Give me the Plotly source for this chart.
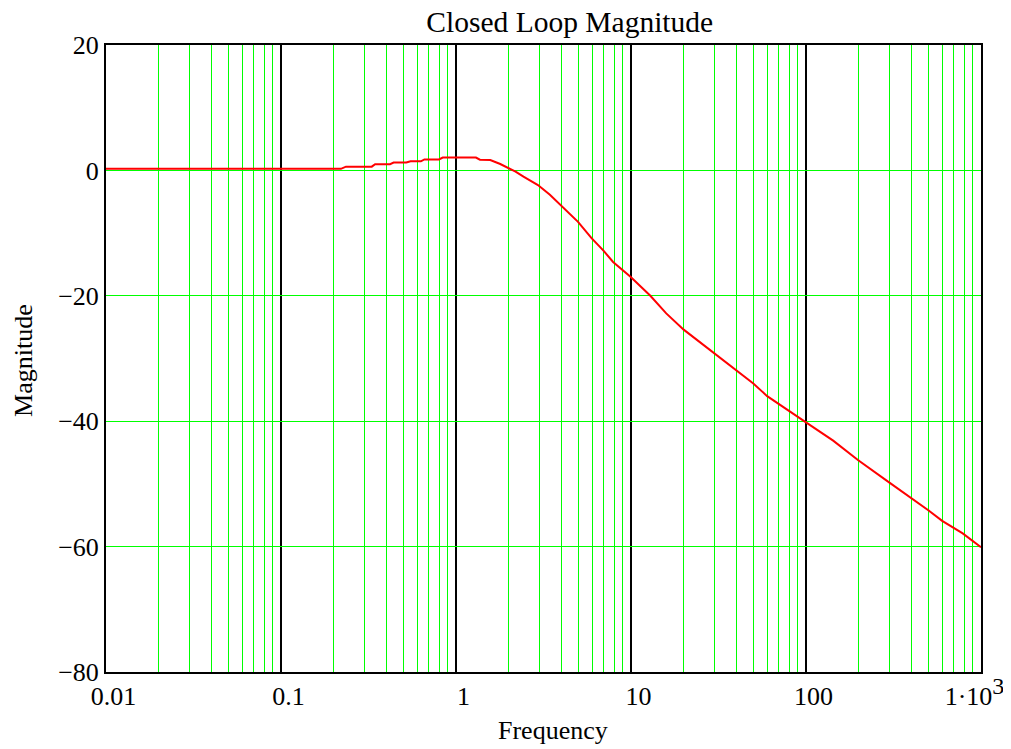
import plotly.graph_objects as go

# Data
freq = [0.01, 0.22, 0.235, 0.33, 0.345, 0.42, 0.44, 0.52, 0.55, 0.63, 0.66, 0.80, 0.84,
        1.30, 1.37, 1.57, 1.79, 2.0, 2.19, 2.43, 2.94, 3.44, 3.95, 4.47, 4.98, 5.95, 6.96,
        7.9, 9.93, 12.9, 15.9, 20, 27.5, 39.5, 50, 60, 79, 100, 143, 198, 293, 397, 500,
        600, 786, 1000]
mag_db = [0.25, 0.25, 0.6, 0.6, 1.0, 1.0, 1.25, 1.25, 1.45, 1.45, 1.75, 1.75, 2.05,
          2.05, 1.7, 1.66, 1.02, 0.33, -0.2, -1.0, -2.33, -3.9, -5.5, -6.85, -8.2, -10.8,
          -12.8, -14.6, -16.95, -20.0, -22.8, -25.4, -28.4, -31.8, -34.0, -36.0, -38.3,
          -40.2, -43.1, -46.2, -49.6, -52.2, -54.2, -55.9, -57.9, -60.1]

x_tickvals = [0.01, 0.1, 1, 10, 100, 1000]
pad = "\u2002\u200a"
x_ticktext = [pad + "0.01", pad + "0.1", pad + "1", pad + "10", pad + "100",
              "1\u00b710<sup><span style='font-size:24px'>3</span></sup>\u2002"]
y_tickvals = [20, 0, -20, -40, -60, -80]
minor_vals = [m * 10 ** e for e in range(-2, 3) for m in range(2, 10)]

FONT = "Liberation Serif, Times New Roman, serif"

fig = go.Figure()
fig.add_trace(go.Scatter(x=freq, y=mag_db, mode="lines",
                         line=dict(color="#ff0000", width=2), showlegend=False))

# page body has an 8px margin, so the figure is 8px smaller and shifted
fig.update_layout(
    width=1003, height=741,
    margin=dict(l=98, r=30, t=37, b=77),
    paper_bgcolor="white", plot_bgcolor="white",
    font=dict(family=FONT, size=26, color="black"),
    title=dict(text="Closed Loop Magnitude", x=0.530, xref="paper", xanchor="center",
               y=0.981, yanchor="middle", yref="container",
               font=dict(family=FONT, size=29.5, color="black")),
    annotations=[
        dict(text="Frequency", xref="paper", yref="paper", x=0.511, y=-0.094,
             xanchor="center", yanchor="middle", showarrow=False,
             font=dict(family=FONT, size=26, color="black")),
        dict(text="Magnitude", xref="paper", yref="paper", x=-0.095, y=0.4976,
             xanchor="center", yanchor="middle", textangle=-90, showarrow=False,
             font=dict(family=FONT, size=26, color="black")),
    ],
)

fig.update_xaxes(
    type="log", range=[-2, 3], automargin=False, ticklabeloverflow="allow",
    tickvals=x_tickvals, ticktext=x_ticktext,
    showgrid=True, gridcolor="#000000", gridwidth=1.5,
    minor=dict(tickvals=minor_vals, showgrid=True, gridcolor="#00ff00", gridwidth=1, ticks=""),
    showline=True, linecolor="black", linewidth=2, mirror=True,
    ticks="", zeroline=False,
    tickfont=dict(family=FONT, size=26),
)
fig.update_yaxes(
    range=[-80, 20], tickvals=y_tickvals, automargin=False, ticklabeloverflow="allow",
    showgrid=True, gridcolor="#00ff00", gridwidth=1,
    showline=True, linecolor="black", linewidth=2, mirror=True,
    ticks="", zeroline=False,
    tickfont=dict(family=FONT, size=26),
)

fig.write_html("out.html")
